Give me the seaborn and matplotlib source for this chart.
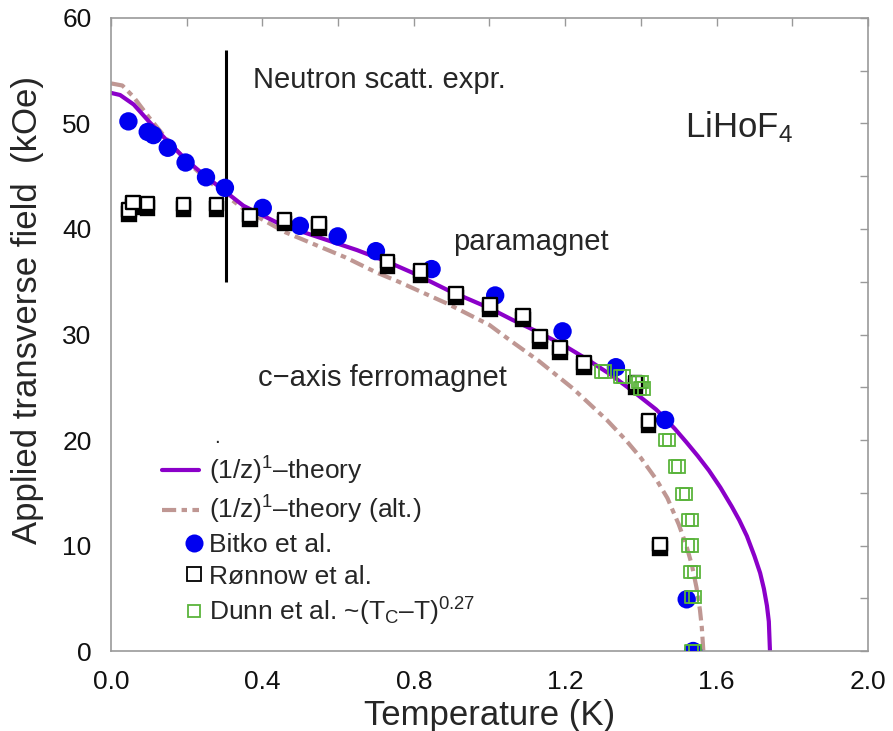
import numpy as np
import matplotlib
matplotlib.use("Agg")
import matplotlib.pyplot as plt
import matplotlib.patheffects as pe
from matplotlib.lines import Line2D
from matplotlib.legend_handler import HandlerLine2DCompound
from matplotlib.ticker import MultipleLocator, FormatStrFormatter
import seaborn as sns

# ---------------- data ----------------
theory_T = [0.0, 0.024, 0.06, 0.10, 0.15, 0.20, 0.25, 0.30, 0.35, 0.40, 0.45, 0.55,
            0.65, 0.73, 0.80, 0.89, 1.00, 1.06, 1.13, 1.20, 1.26, 1.32, 1.38, 1.44,
            1.46, 1.49, 1.52, 1.55, 1.58, 1.61, 1.64, 1.66, 1.68, 1.70, 1.715,
            1.725, 1.733, 1.738, 1.741]
theory_H = [52.9, 52.7, 51.8, 50.2, 48.3, 46.5, 45.0, 43.6, 42.2, 41.3, 40.4, 39.2,
            38.0, 36.9, 35.8, 34.2, 32.5, 31.4, 30.2, 28.9, 27.6, 26.2, 24.6, 22.9,
            22.2, 21.05, 19.8, 18.5, 17.1, 15.5, 13.7, 12.4, 10.9, 9.0, 7.4,
            5.9, 4.3, 2.8, 0.0]

alt_T = [0.0, 0.03, 0.06, 0.10, 0.15, 0.20, 0.25, 0.30, 0.35, 0.41, 0.46, 0.54, 0.62,
         0.70, 0.76, 0.89, 1.00, 1.06, 1.13, 1.22, 1.31, 1.36, 1.40, 1.44, 1.47,
         1.50, 1.52, 1.535, 1.547, 1.556, 1.561, 1.565]
alt_H = [53.8, 53.6, 52.5, 50.6, 48.4, 46.4, 44.8, 43.3, 41.9, 40.7, 39.7, 38.5, 37.3,
         35.9, 35.0, 32.9, 30.9, 29.3, 27.5, 24.9, 21.9, 20.0, 18.3, 16.3, 14.5,
         12.0, 10.0, 8.1, 6.0, 3.9, 2.2, 0.0]

bitko_T = [0.046, 0.097, 0.112, 0.150, 0.197, 0.251, 0.301, 0.401, 0.499, 0.599,
           0.700, 0.847, 1.015, 1.193, 1.334, 1.464, 1.521, 1.538]
bitko_H = [50.2, 49.2, 48.9, 47.7, 46.3, 44.9, 43.9, 42.0, 40.3, 39.3,
           37.9, 36.2, 33.7, 30.3, 26.9, 21.9, 4.9, 0.0]

ronnow_T = [0.048, 0.058, 0.097, 0.191, 0.279, 0.367, 0.458, 0.550, 0.730, 0.818,
            0.911, 1.001, 1.089, 1.133, 1.186, 1.250, 1.386, 1.420, 1.450]
ronnow_H = [41.8, 42.5, 42.4, 42.3, 42.3, 41.3, 40.9, 40.5, 36.9, 36.0,
            33.9, 32.8, 31.8, 29.8, 28.7, 27.3, 25.4, 21.8, 10.1]

dunn_T = [1.296, 1.345, 1.393, 1.398, 1.464, 1.490, 1.510, 1.525, 1.525, 1.531,
          1.534, 1.534]
dunn_H = [26.5, 26.0, 25.5, 24.9, 20.0, 17.5, 14.9, 12.4, 10.0, 7.5, 5.1, 0.0]

neutron_T = 0.305
neutron_H = [35.0, 57.0]

labels = ["(1/z)$^{1}$\u2013theory", "(1/z)$^{1}$\u2013theory (alt.)", "Bitko et al.",
          "R\u00f8nnow et al.", "Dunn et al. ~(T$_{\\mathrm{C}}$\u2013T)$^{0.27}$"]
x_ticks = [0.0, 0.4, 0.8, 1.2, 1.6, 2.0]
y_ticks = [0, 10, 20, 30, 40, 50, 60]

# ---------------- style ----------------
PURPLE = "#8b00c9"
BROWN = "#bf9793"
BLUE = "#0000f0"
GREEN = "#5ab43c"
DASH = (0, (3.4, 1.3, 1.3, 1.3))

sns.set_theme(style="white")
plt.rcParams["font.family"] = ["Liberation Sans", "DejaVu Sans"]
plt.rcParams["mathtext.fontset"] = "custom"
plt.rcParams["mathtext.rm"] = "Liberation Sans"
plt.rcParams["mathtext.it"] = "Liberation Sans:italic"
plt.rcParams["mathtext.default"] = "regular"

fig = plt.figure(figsize=(8.93, 7.31), dpi=100)
ax = fig.add_axes([0.1243, 0.1094, 0.8477, 0.866])

sns.lineplot(x=alt_T, y=alt_H, ax=ax, color=BROWN, lw=3, linestyle=DASH,
             sort=False, estimator=None, zorder=2)
sns.lineplot(x=theory_T, y=theory_H, ax=ax, color=PURPLE, lw=3,
             sort=False, estimator=None, zorder=2.1)
ax.vlines(neutron_T, neutron_H[0], neutron_H[1], color="black", lw=2.2, zorder=2.5)

sns.scatterplot(x=bitko_T, y=bitko_H, ax=ax, color=BLUE, s=175, edgecolor="none",
                zorder=3, legend=False)
sns.scatterplot(x=ronnow_T, y=ronnow_H, ax=ax, marker="s", s=95, color="white",
                edgecolor="black", linewidth=1.7, zorder=4, legend=False)
ax.collections[-1].set_path_effects([
    pe.PathPatchEffect(offset=(0, -3), facecolor="black", edgecolor="black", linewidth=1.7),
    pe.Normal()])
sns.scatterplot(x=dunn_T, y=dunn_H, ax=ax, marker="s", s=80, facecolor="none",
                edgecolor=GREEN, linewidth=1.3, zorder=5, legend=False)
ax.collections[-1].set_path_effects([
    pe.PathPatchEffect(offset=(2.6, 0), facecolor="none", edgecolor=GREEN, linewidth=1.3),
    pe.Normal()])

# annotations
ax.text(0.375, 54.1, "Neutron scatt. expr.", va="center", fontsize=21)
ax.text(0.904, 38.8, "paramagnet", va="center", fontsize=21)
ax.text(0.388, 25.9, "c\u2212axis ferromagnet", va="center", fontsize=21)
ax.text(1.517, 48.7, "LiHoF$_{4}$", va="baseline", fontsize=25)
ax.text(0.272, 20.2, ".", va="center", ha="left", fontsize=15)

# axes
ax.set_xlim(0, 2.0)
ax.set_ylim(0, 60)
ax.set_xticks(x_ticks)
ax.set_yticks(y_ticks)
ax.xaxis.set_minor_locator(MultipleLocator(0.2))
ax.yaxis.set_minor_locator(MultipleLocator(5))
ax.xaxis.set_major_formatter(FormatStrFormatter("%.1f"))
ax.tick_params(which="both", direction="in", top=True, right=True, length=6,
               width=1, color="#999999", labelsize=19, pad=14, labelcolor="#111111")
for sp in ax.spines.values():
    sp.set_color("#999999")
    sp.set_linewidth(1.2)

ax.set_xlabel("Temperature (K)", fontsize=25, labelpad=3)
ax.set_ylabel("Applied transverse field  (kOe)", fontsize=25)
ax.yaxis.set_label_coords(-0.0885, 0.539)


class RightMarkerHandler(HandlerLine2DCompound):
    """Legend handler that draws the marker near the right end of the handle."""
    def get_xdata(self, legend, xdescent, ydescent, width, height, fontsize):
        xdata = np.array([-xdescent, -xdescent + width], float)
        xdata_marker = np.array([-xdescent + 0.88 * width], float)
        return xdata, xdata_marker


handles = [
    Line2D([], [], color=PURPLE, lw=3),
    Line2D([], [], color=BROWN, lw=3, linestyle=DASH),
    Line2D([], [], ls="none", marker="o", ms=13, mfc=BLUE, mec="none"),
    Line2D([], [], ls="none", marker="s", ms=10, mfc="white", mec="black", mew=1.3),
    Line2D([], [], ls="none", marker="s", ms=9, mfc="white", mec=GREEN, mew=1.3),
]
hmap = {h: RightMarkerHandler(numpoints=1) for h in handles[2:]}
leg = ax.legend(handles, labels, loc="upper left", bbox_to_anchor=(0.067, 0.310),
                frameon=False, fontsize=19, handlelength=1.4, handletextpad=0.4,
                labelspacing=0.27, borderpad=0, borderaxespad=0, handler_map=hmap)

fig.savefig("out.png", dpi=100)
